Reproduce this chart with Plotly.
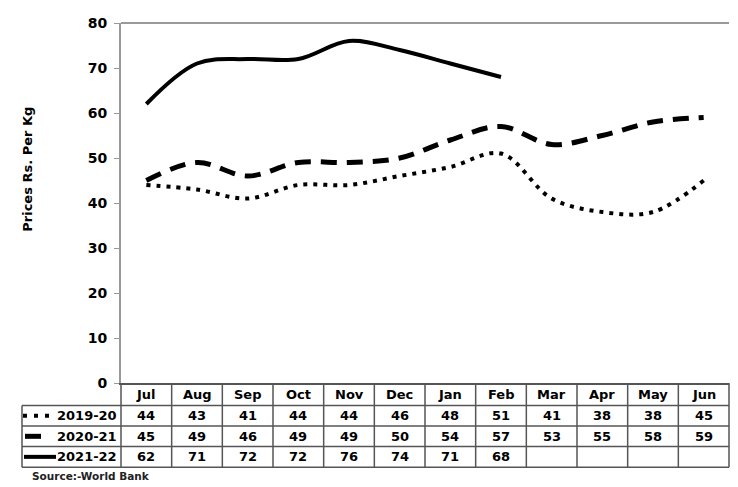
import plotly.graph_objects as go

# Monthly prices, Rs. per Kg (World Bank)
months = ['Jul', 'Aug', 'Sep', 'Oct', 'Nov', 'Dec', 'Jan', 'Feb', 'Mar', 'Apr', 'May', 'Jun']
prices_2019_20 = [44, 43, 41, 44, 44, 46, 48, 51, 41, 38, 38, 45]
prices_2020_21 = [45, 49, 46, 49, 49, 50, 54, 57, 53, 55, 58, 59]
prices_2021_22 = [62, 71, 72, 72, 76, 74, 71, 68]
season_names = ['2019-20', '2020-21', '2021-22']

FONT = 'DejaVu Sans'
OFF = 8  # page body margin of the html page
W, H = 738 - OFF, 487 - OFF
# plot area in screen pixels
X0, X1, Y0, Y1 = 121, 729, 15, 383
L, R, T, B = X0 - OFF, W - (X1 - OFF), Y0 - OFF, H - (Y1 - OFF)
PW, PH = X1 - X0, Y1 - Y0


def px(x):
    return (x - X0) / PW


def py(y):
    return (Y1 - y) / PH


series = [prices_2019_20, prices_2020_21, prices_2021_22]
dashes = ['4px,6px', '16px,10px', 'solid']
widths = [4, 5, 4]

fig = go.Figure()
for name, vals, dash, w in zip(season_names, series, dashes, widths):
    fig.add_trace(go.Scatter(x=months[:len(vals)], y=vals, mode='lines', name=name,
                             line=dict(color='black', width=w, dash=dash,
                                       shape='spline', smoothing=1.0)))

# data table under the chart
row_top = [406, 427, 448]
row_h = 21
edge = '#555'
shapes = []
col_w = PW / len(months)
# horizontal rules
for yy in [406, 427, 448, 469]:
    shapes.append(dict(type='line', xref='paper', yref='paper', x0=px(22), x1=px(X1),
                       y0=py(yy), y1=py(yy), line=dict(color=edge, width=1.5)))
# vertical rules
shapes.append(dict(type='line', xref='paper', yref='paper', x0=px(22), x1=px(22),
                   y0=py(406), y1=py(469), line=dict(color=edge, width=1.5)))
for k in range(len(months) + 1):
    xx = px(X0 + k * col_w)
    shapes.append(dict(type='line', xref='paper', yref='paper', x0=xx, x1=xx,
                       y0=py(383), y1=py(469), line=dict(color=edge, width=1.5)))
# top border of plot area
shapes.append(dict(type='line', xref='paper', yref='paper', x0=0, x1=1, y0=1, y1=1,
                   line=dict(color='#999', width=2)))
# legend keys
key_specs = [(23, 49, '4px,7px', 4), (25, 41, 'solid', 5), (24, 56, 'solid', 4)]
for (x0, x1, dash, w), top in zip(key_specs, row_top):
    yc = py(top + row_h / 2)
    shapes.append(dict(type='line', xref='paper', yref='paper', x0=px(x0), x1=px(x1),
                       y0=yc, y1=yc, line=dict(color='black', width=w, dash=dash)))

annotations = []
tfont = dict(family=FONT, size=13, color='black', weight='bold')
for m in months:
    annotations.append(dict(xref='x', yref='paper', x=m, y=py(395), text=m,
                            xanchor='center', yanchor='middle',
                            showarrow=False, font=tfont))
for name, vals, top in zip(season_names, series, row_top):
    yc = py(top + row_h / 2)
    annotations.append(dict(xref='paper', yref='paper', x=px(119), y=yc, text=name,
                            xanchor='right', yanchor='middle', showarrow=False, font=tfont))
    for m, v in zip(months, vals):
        annotations.append(dict(xref='x', yref='paper', x=m, y=yc, text=str(v),
                                xanchor='center', yanchor='middle',
                                showarrow=False, font=tfont))

annotations.append(dict(xref='paper', yref='paper', x=px(28), y=py(165),
                        text='Prices Rs. Per Kg', textangle=-90, showarrow=False,
                        xanchor='center', yanchor='middle',
                        font=dict(family=FONT, size=13, color='black', weight='bold')))
annotations.append(dict(xref='paper', yref='paper', x=px(30), y=py(478),
                        text='Source:-World Bank', xanchor='left', yanchor='middle',
                        showarrow=False,
                        font=dict(family=FONT, size=10.5, color='#222', weight='bold')))

fig.update_layout(
    width=W, height=H,
    margin=dict(l=L, r=R, t=T, b=B, pad=0),
    paper_bgcolor='white', plot_bgcolor='white',
    showlegend=False,
    font=dict(family=FONT, color='black'),
    xaxis=dict(type='category', categoryarray=months, range=[-0.5, 11.5],
               showticklabels=False, ticks='', showgrid=False, zeroline=False,
               showline=True, linecolor=edge, linewidth=1.5),
    yaxis=dict(range=[0, 80], dtick=10, showgrid=False, zeroline=False,
               showline=True, linecolor='#999', linewidth=2,
               ticks='outside', ticklen=5, tickcolor='#999',
               ticklabelstandoff=4, ticklabeloverflow='allow',
               tickfont=dict(family=FONT, size=14, color='black', weight='bold')),
    shapes=shapes,
    annotations=annotations,
)

fig.write_html('out.html')
